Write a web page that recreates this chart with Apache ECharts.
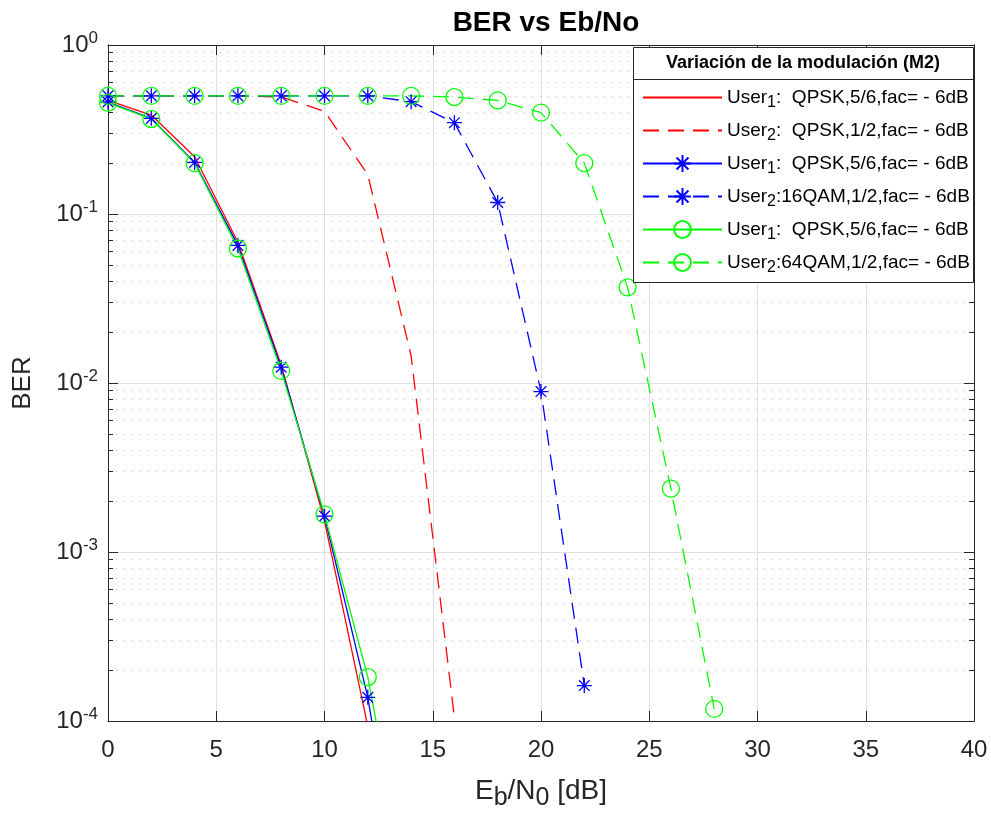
<!DOCTYPE html>
<html><head><meta charset="utf-8">
<script src="https://cdn.jsdelivr.net/npm/echarts@6/dist/echarts.min.js"></script>
<style>html,body{margin:0;padding:0;background:#fff}#c{width:991px;height:816px}</style>
</head><body><div id="c"></div>
<script>
// ---- data ----
const ebno = [0, 2, 4, 6, 8, 10, 12, 14, 16, 18, 20, 22, 24, 26, 28];
const u1QpskRed   = [0.47, 0.385, 0.218, 0.068, 0.0128, 0.00153, 0.000093, 0.000001];
const u2QpskRed   = [0.5, 0.5, 0.5, 0.5, 0.493, 0.405, 0.171, 0.0145, 0.000105];
const u1QpskBlue  = [0.46, 0.368, 0.202, 0.0652, 0.0124, 0.00163, 0.000138, 0.000004];
const u2Qam16Blue = [0.5, 0.5, 0.5, 0.5, 0.5, 0.5, 0.5, 0.462, 0.347, 0.117, 0.0089, 0.000162];
const u1QpskGreen = [0.455, 0.365, 0.2, 0.0625, 0.0118, 0.00167, 0.000182, 0.000008];
const u2Qam64Green= [0.5, 0.5, 0.5, 0.5, 0.5, 0.5, 0.5, 0.5, 0.492, 0.47, 0.398, 0.2, 0.0368, 0.00237, 0.000118];
const xTickValues = [0, 5, 10, 15, 20, 25, 30, 35, 40];
const yDecades = [1e-4, 1e-3, 1e-2, 1e-1, 1];
const yMinorMult = [2, 3, 4, 5, 6, 7, 8, 9];
const legendTitle = 'Variación de la modulación (M2)';
const seriesNames = ['s1', 's2', 's3', 's4', 's5', 's6'];
const legendLabels = {
  s1: 'User{s|1}:  QPSK,5/6,fac= - 6dB',
  s2: 'User{s|2}:  QPSK,1/2,fac= - 6dB',
  s3: 'User{s|1}:  QPSK,5/6,fac= - 6dB',
  s4: 'User{s|2}:16QAM,1/2,fac= - 6dB',
  s5: 'User{s|1}:  QPSK,5/6,fac= - 6dB',
  s6: 'User{s|2}:64QAM,1/2,fac= - 6dB'
};

// ---- helpers ----
const FONT = '"Liberation Sans", Arial, Helvetica, sans-serif';
const AX = '#262626';
const yMinorValues = [];
yDecades.slice(0, -1).forEach(d => yMinorMult.forEach(m => yMinorValues.push(+(d * m).toPrecision(3))));
const STAR = 'path://M5,0L5,10M0,5L10,5M1.46,1.46L8.54,8.54M8.54,1.46L1.46,8.54';
const DASH = [16, 9];

function pts(arr) { return arr.map((v, i) => [ebno[i], v]); }
function mkSeries(name, arr, color, dashed, symbol, size) {
  return {
    name: name, type: 'line', data: pts(arr),
    symbol: symbol || 'none', symbolSize: size || 0,
    showSymbol: !!symbol,
    lineStyle: { color: color, width: 1.3, type: dashed ? DASH : 'solid' },
    itemStyle: { color: 'rgba(0,0,0,0)', borderColor: color, borderWidth: 1.3 },
    emphasis: { disabled: true },
    animation: false, clip: true
  };
}

const chart = echarts.init(document.getElementById('c'), null, { renderer: 'canvas' });
const GRID = { left: 108, right: 17, top: 45, bottom: 93 };

const baseY = {
  type: 'log', logBase: 10, min: 1e-4, max: 1,
  axisLine: { show: true, lineStyle: { color: AX, width: 1 } },
  axisLabel: { show: false },
  axisTick: { show: false },
  splitLine: { show: false },
  minorTick: { show: false }
};

const noMarker = { borderColor: 'rgba(0,0,0,0)', borderWidth: 0, color: 'rgba(0,0,0,0)' };

chart.setOption({
  backgroundColor: '#fff',
  animation: false,
  textStyle: { fontFamily: FONT },
  title: {
    text: 'BER vs Eb/No', left: 541, textAlign: 'center', top: 4,
    textStyle: { fontFamily: FONT, fontSize: 28, fontWeight: 'bold', color: '#000' }
  },
  grid: GRID,
  xAxis: [
    {
      type: 'value', position: 'bottom', min: 0, max: 40, interval: 5,
      name: 'E{s|b}/N{s|0} [dB]', nameLocation: 'middle', nameGap: 50,
      nameTextStyle: { fontFamily: FONT, fontSize: 28, color: AX,
        rich: { s: { fontSize: 25, fontFamily: FONT, color: AX, padding: [15, 0, 0, 0] } } },
      axisLine: { show: true, onZero: false, lineStyle: { color: AX, width: 1 } },
      axisTick: { show: true, inside: true, length: 10, lineStyle: { color: AX } },
      axisLabel: { fontFamily: FONT, fontSize: 24, color: AX, margin: 17,
        customValues: xTickValues, formatter: v => String(v) },
      splitLine: { show: true, lineStyle: { color: '#dfdfdf', width: 1 } }
    },
    {
      type: 'value', position: 'top', min: 0, max: 40, interval: 5,
      axisLine: { show: true, onZero: false, lineStyle: { color: AX, width: 1 } },
      axisTick: { show: true, inside: true, length: 10, lineStyle: { color: AX } },
      axisLabel: { show: false }, splitLine: { show: false }
    }
  ],
  yAxis: [
    Object.assign({}, baseY, {
      position: 'left',
      name: 'BER', nameLocation: 'middle', nameGap: 72, nameRotate: 90,
      nameTextStyle: { fontFamily: FONT, fontSize: 26, color: AX },
      axisTick: { show: true, inside: true, length: 10, lineStyle: { color: AX } },
      axisLabel: {
        show: true, margin: 10, color: AX, fontSize: 24, fontFamily: FONT,
        formatter: v => '{b|10}{p|' + Math.round(Math.log10(v)) + '}',
        rich: {
          b: { fontSize: 24, fontFamily: FONT, color: AX },
          p: { fontSize: 17, fontFamily: FONT, color: AX, padding: [0, 0, 14, 0] }
        }
      },
      splitLine: { show: true, lineStyle: { color: '#dfdfdf', width: 1 } }
    }),
    Object.assign({}, baseY, {
      position: 'left',
      axisTick: { show: true, inside: true, length: 5, customValues: yMinorValues, lineStyle: { color: AX } },
      splitLine: { show: true, lineStyle: { color: '#c4c4c4', width: 1.2, type: [1.2, 6.8] } }
    }),
    Object.assign({}, baseY, {
      position: 'right',
      axisTick: { show: true, inside: true, length: 10, lineStyle: { color: AX } }
    }),
    Object.assign({}, baseY, {
      position: 'right',
      axisTick: { show: true, inside: true, length: 5, customValues: yMinorValues, lineStyle: { color: AX } }
    })
  ],
  legend: {
    show: true, orient: 'vertical', left: 642, top: 88,
    data: [
      { name: 's1', itemStyle: noMarker },
      { name: 's2', itemStyle: noMarker },
      'S3'.toLowerCase(), 's4', 's5', 's6'
    ],
    itemWidth: 79, itemHeight: 21, itemGap: 10.5,
    padding: 0,
    formatter: name => legendLabels[name],
    textStyle: {
      fontFamily: FONT, fontSize: 19, color: '#000',
      rich: { s: { fontSize: 16, fontFamily: FONT, color: '#000', padding: [10, 0, 0, 0] } }
    },
    selectedMode: false,
    z: 10
  },
  graphic: [
    { type: 'rect', z: 8, shape: { x: 633.5, y: 47.5, width: 340, height: 235 },
      style: { fill: '#fff', stroke: AX, lineWidth: 1 } },
    { type: 'line', z: 9, shape: { x1: 633.5, y1: 79.5, x2: 973.5, y2: 79.5 },
      style: { stroke: AX, lineWidth: 1 } },
    { type: 'text', z: 9, x: 803, y: 63,
      style: { text: legendTitle, fontFamily: FONT, fontSize: 18, fontWeight: 'bold', fill: '#000',
        textAlign: 'center', textVerticalAlign: 'middle' } }
  ],
  series: [
    mkSeries('s1', u1QpskRed, '#ff0000', false, null, 0),
    mkSeries('s2', u2QpskRed, '#ff0000', true, null, 0),
    mkSeries('s3', u1QpskBlue, '#0000ff', false, STAR, 15),
    mkSeries('s4', u2Qam16Blue, '#0000ff', true, STAR, 15),
    mkSeries('s5', u1QpskGreen, '#00ff00', false, 'circle', 17),
    mkSeries('s6', u2Qam64Green, '#00ff00', true, 'circle', 17)
  ]
});
</script>
</body></html>
